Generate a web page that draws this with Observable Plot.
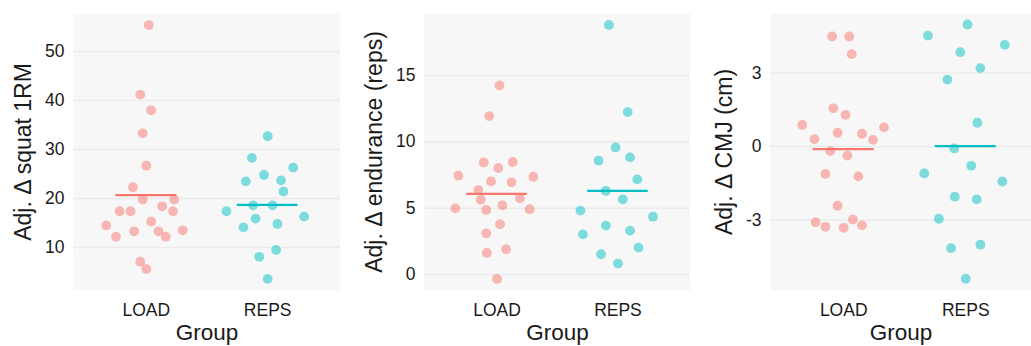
<!DOCTYPE html>
<html><head><meta charset="utf-8">
<script src="https://cdn.jsdelivr.net/npm/d3@7"></script>
<script src="https://cdn.jsdelivr.net/npm/@observablehq/plot@0.6"></script>
<style>
body{margin:0;background:#fff;}
#row{display:flex;width:1031px;height:346px;overflow:hidden;}
#row svg{flex:none;}
</style></head><body><div id="row"></div>
<script>
const groups = ["LOAD", "REPS"];
const groupColors = ["#F8766D", "#00BFC4"];
const xTitle = "Group";

const squatTitle = "Adj. Δ squat 1RM";
const squatTicks = [10, 20, 30, 40, 50];
const squatLoad = [55.4, 41.2, 38.0, 33.3, 26.7, 22.3, 19.8, 19.8, 18.4, 17.4, 17.4, 17.4, 15.3, 14.5, 13.3, 13.3, 13.5, 12.2, 12.2, 7.1, 5.6];
const squatLoadJitter = [0.02, -0.05, 0.04, -0.03, 0.0, -0.11, -0.03, 0.23, 0.13, -0.22, -0.13, 0.22, 0.04, -0.33, -0.10, 0.10, 0.30, -0.25, 0.16, -0.05, 0.0];
const squatReps = [32.7, 28.3, 26.3, 24.8, 23.5, 23.7, 21.4, 18.6, 18.6, 17.4, 15.9, 16.3, 14.1, 14.8, 9.5, 8.1, 3.6];
const squatRepsJitter = [0.0, -0.13, 0.21, -0.03, -0.18, 0.11, 0.13, -0.12, 0.04, -0.34, -0.10, 0.30, -0.20, 0.08, 0.07, -0.07, 0.0];

const endTitle = "Adj. Δ endurance (reps)";
const endTicks = [0, 5, 10, 15];
const endLoad = [14.25, 11.94, 8.45, 8.48, 8.03, 7.45, 7.37, 7.02, 6.95, 6.37, 5.64, 5.74, 4.99, 4.92, 4.87, 5.22, 3.79, 3.11, 1.63, 1.91, -0.33];
const endLoadJitter = [0.02, -0.065, -0.11, 0.13, 0.01, -0.32, 0.30, -0.05, 0.12, -0.155, -0.135, 0.19, -0.345, 0.27, -0.09, 0.045, 0.025, -0.09, -0.085, 0.075, 0.0];
const endReps = [18.81, 12.24, 9.58, 8.58, 8.83, 7.17, 6.30, 5.67, 4.82, 4.36, 3.69, 3.31, 3.03, 2.03, 1.53, 0.83];
const endRepsJitter = [-0.075, 0.08, -0.02, -0.16, 0.10, 0.16, -0.10, 0.04, -0.31, 0.29, -0.10, 0.10, -0.29, 0.17, -0.14, 0.0];

const cmjTitle = "Adj. Δ CMJ (cm)";
const cmjTicks = [-3, 0, 3];
const cmjLoad = [4.49, 4.49, 3.77, 1.56, 1.29, 0.88, 0.78, 0.56, 0.52, 0.30, 0.27, -0.19, -0.37, -1.12, -1.22, -2.42, -3.09, -2.98, -3.28, -3.32, -3.22];
const cmjLoadJitter = [-0.095, 0.045, 0.065, -0.085, 0.015, -0.34, 0.33, -0.05, 0.15, -0.24, 0.24, -0.11, 0.03, -0.15, 0.12, -0.05, -0.23, 0.075, -0.15, 0.0, 0.15];
const cmjReps = [4.98, 4.53, 4.15, 3.85, 3.20, 2.73, 0.97, -0.08, -0.79, -1.10, -1.43, -2.05, -2.16, -2.95, -4.01, -4.15, -5.40];
const cmjRepsJitter = [0.015, -0.31, 0.32, -0.045, 0.12, -0.15, 0.095, -0.095, 0.045, -0.34, 0.30, -0.09, 0.09, -0.22, 0.12, -0.12, 0.0];

function panel(o) {
  const rows = [
    ...o.load.map((v, i) => ({g: 0, v, j: o.loadJ[i]})),
    ...o.reps.map((v, i) => ({g: 1, v, j: o.repsJ[i]}))
  ];
  const means = [{g: 0, m: d3.mean(o.load)}, {g: 1, m: d3.mean(o.reps)}];
  return Plot.plot({
    width: o.width, height: 346,
    marginTop: 13, marginBottom: 56, marginLeft: o.marginLeft, marginRight: o.marginRight,
    style: {fontFamily: "'Liberation Sans', Arial, sans-serif", background: "white", color: "#1a1a1a"},
    x: {domain: [0.4, o.xMax], axis: null},
    y: {domain: o.domain, axis: null},
    marks: [
      Plot.frame({fill: "#F7F7F7", stroke: null}),
      Plot.gridY(o.ticks, {stroke: "#EBEBEB", strokeOpacity: 1, strokeWidth: 1.6}),
      Plot.axisY(o.ticks, {tickSize: 0, tickPadding: 9, fontSize: 17.5, tickFormat: d => String(d), label: null}),
      Plot.axisX([1, 2], {tickSize: 0, tickPadding: 13, fontSize: 17.5, tickFormat: d => groups[d - 1], label: null}),
      Plot.dot(rows, {x: d => d.g + 1 + d.j, y: "v", r: 4.9, fill: d => groupColors[d.g], fillOpacity: 0.5, stroke: null}),
      Plot.ruleY(means, {y: "m", x1: d => d.g + 1 - 0.25, x2: d => d.g + 1 + 0.25, stroke: d => groupColors[d.g], strokeWidth: 2.2}),
      Plot.text([o.title], {frameAnchor: "left", textAnchor: "middle", rotate: -90, dx: o.titleDx, fontSize: 23, text: d => d}),
      Plot.text([xTitle], {frameAnchor: "bottom", textAnchor: "middle", dy: 49, fontSize: 22.5, text: d => d})
    ]
  });
}

const row = document.getElementById("row");
row.append(panel({title: squatTitle, ticks: squatTicks, load: squatLoad, loadJ: squatLoadJitter, reps: squatReps, repsJ: squatRepsJitter,
  domain: [1.22, 57.76], width: 343, marginLeft: 73, marginRight: 3, xMax: 2.6, titleDx: -50}));
row.append(panel({title: endTitle, ticks: endTicks, load: endLoad, loadJ: endLoadJitter, reps: endReps, repsJ: endRepsJitter,
  domain: [-1.2, 19.67], width: 347, marginLeft: 81, marginRight: 0, xMax: 2.6, titleDx: -50}));
row.append(panel({title: cmjTitle, ticks: cmjTicks, load: cmjLoad, loadJ: cmjLoadJitter, reps: cmjReps, repsJ: cmjRepsJitter,
  domain: [-5.88, 5.43], width: 341, marginLeft: 80, marginRight: 0, xMax: 2.539, titleDx: -46}));
</script>
</body></html>
